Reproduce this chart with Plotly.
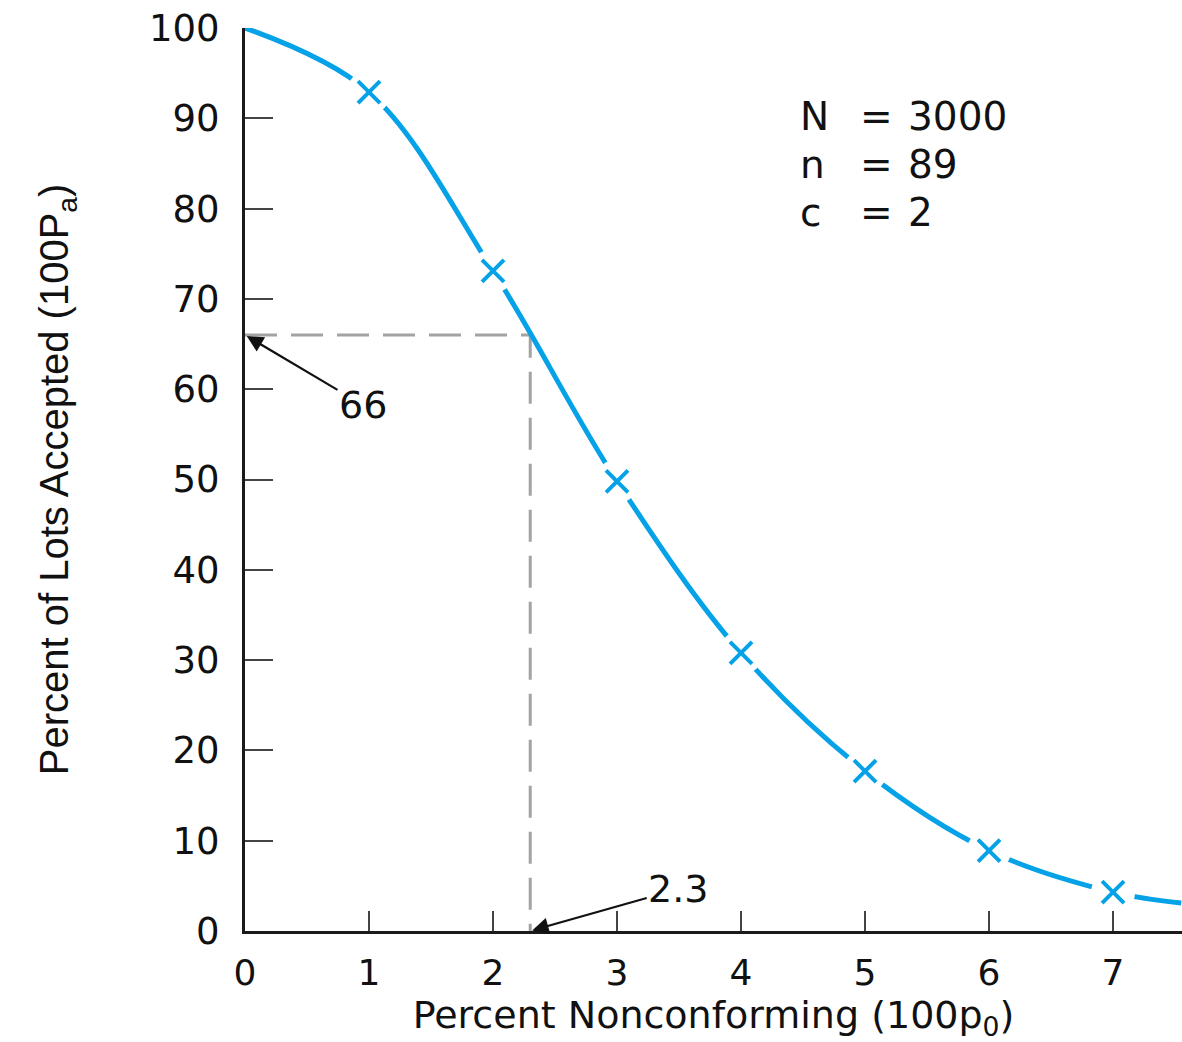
import plotly.graph_objects as go

# Data
curve_x = [0, 1, 2, 3, 4, 5, 6, 7, 7.55]
curve_y = [100, 92.9, 73.1, 49.8, 30.8, 17.7, 8.9, 4.3, 3.1]
marker_x = curve_x[1:8]
marker_y = curve_y[1:8]
x_ticks = [0, 1, 2, 3, 4, 5, 6, 7]
y_ticks = [0, 10, 20, 30, 40, 50, 60, 70, 80, 90, 100]
read_x = 2.3
read_y = 66
params_lhs = ["N", "n", "c"]
params_rhs = ["3000", "89", "2"]
params_y = [90.2, 84.9, 79.6]

BLUE = "#06a2e8"
GRAY = "#a3a3a3"
INK = "#111111"
FONT = "DejaVu Sans"

fig = go.Figure()

# dashed reading lines
fig.add_trace(go.Scatter(
    x=[0, read_x, read_x], y=[read_y, read_y, 0], mode="lines",
    line=dict(color=GRAY, width=3, dash="32px,14px"),
    hoverinfo="skip", showlegend=False, cliponaxis=False))

# curve
fig.add_trace(go.Scatter(
    x=curve_x, y=curve_y, mode="lines",
    line=dict(color=BLUE, width=5, shape="spline", smoothing=1.0),
    showlegend=False, cliponaxis=True))

# white gaps around markers
fig.add_trace(go.Scatter(
    x=marker_x, y=marker_y, mode="markers",
    marker=dict(symbol="circle", size=44, color="white", line=dict(width=0)),
    hoverinfo="skip", showlegend=False, cliponaxis=False))

# x markers
fig.add_trace(go.Scatter(
    x=marker_x, y=marker_y, mode="markers",
    marker=dict(symbol="x-thin-open", size=22, color=BLUE,
                line=dict(color=BLUE, width=4)),
    showlegend=False, cliponaxis=False))

annotations = []
# labelled arrows
annotations.append(dict(x=0, y=read_y, xref="x", yref="y", text=str(read_y),
                        showarrow=True, arrowhead=2, arrowsize=1.5, arrowwidth=2.2,
                        arrowcolor=INK, ax=118, ay=70, standoff=2,
                        font=dict(family=FONT, size=38, color=INK)))
annotations.append(dict(x=read_x, y=0, xref="x", yref="y", text=str(read_x),
                        showarrow=True, arrowhead=2, arrowsize=1.5, arrowwidth=2.2,
                        arrowcolor=INK, ax=148, ay=-42, standoff=2,
                        font=dict(family=FONT, size=38, color=INK)))
# parameter block
for lhs, rhs, yy in zip(params_lhs, params_rhs, params_y):
    annotations.append(dict(x=4.46, y=yy, xref="x", yref="y", text=lhs, xanchor="left",
                            showarrow=False, font=dict(family=FONT, size=39, color=INK)))
    annotations.append(dict(x=5.09, y=yy, xref="x", yref="y", text="=", xanchor="center",
                            showarrow=False, font=dict(family=FONT, size=39, color=INK)))
    annotations.append(dict(x=5.33, y=yy, xref="x", yref="y", text=rhs, xanchor="left",
                            showarrow=False, font=dict(family=FONT, size=39, color=INK)))

fig.update_layout(
    width=1182, height=1042,
    margin=dict(l=245, r=0, t=28, b=111),
    paper_bgcolor="white", plot_bgcolor="white",
    annotations=annotations,
    xaxis=dict(range=[0, 7.556], tickvals=x_ticks, ticktext=[str(v) for v in x_ticks],
               ticks="inside", ticklen=20, tickwidth=2, tickcolor="#444",
               showline=True, linecolor="#1a1a1a", linewidth=3,
               showgrid=False, zeroline=False, ticklabelstandoff=8,
               tickfont=dict(family=FONT, size=36, color=INK),
               title=dict(text="Percent Nonconforming (100p<sub>0</sub>)",
                          font=dict(family=FONT, size=38, color=INK), standoff=12)),
    yaxis=dict(range=[0, 100], tickvals=y_ticks, ticktext=[str(v) for v in y_ticks],
               ticks="inside", ticklen=28, tickwidth=2, tickcolor="#444",
               showline=True, linecolor="#1a1a1a", linewidth=3,
               showgrid=False, zeroline=False, ticklabelstandoff=15,
               tickfont=dict(family=FONT, size=37, color=INK),
               title=dict(text="Percent of Lots Accepted (100P<sub>a</sub>)",
                          font=dict(family="Liberation Sans", size=40, color=INK),
                          standoff=68)),
)

fig.write_html("out.html")
